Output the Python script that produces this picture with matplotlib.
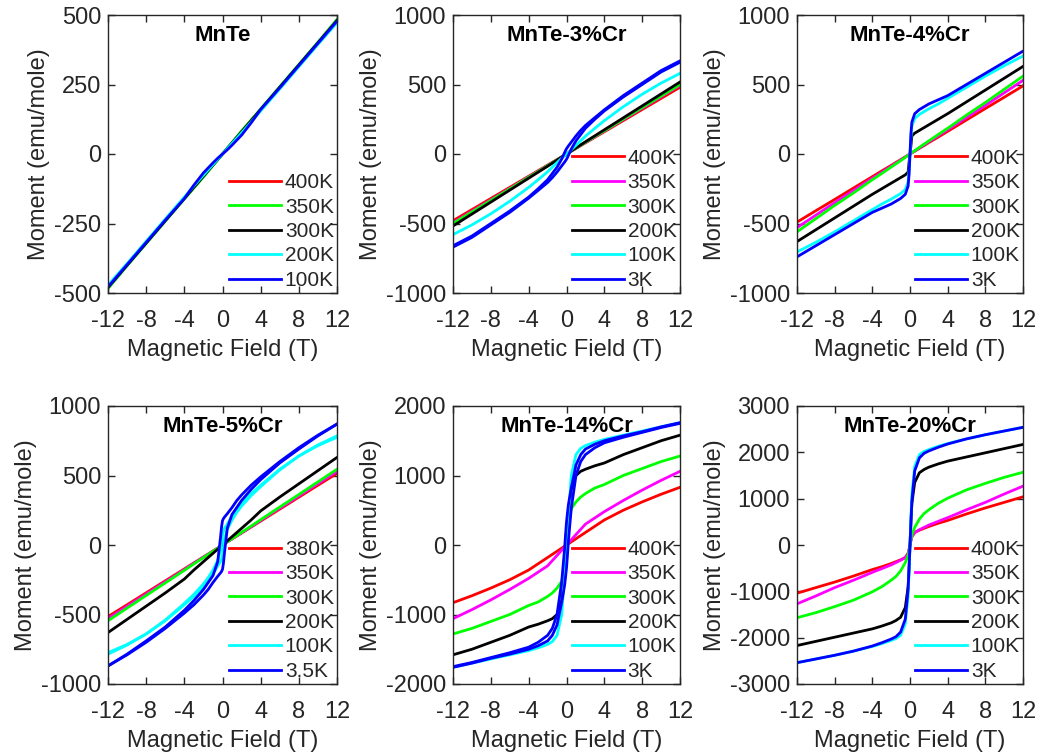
import numpy as np
import matplotlib
matplotlib.use("Agg")
import matplotlib.pyplot as plt

plt.rcParams['font.family'] = ['Liberation Sans', 'DejaVu Sans']
plt.rcParams['axes.unicode_minus'] = False

# field points (T) for the positive half of the anhysteretic curves
H_POS = [0, 0.1, 0.2, 0.5, 1, 1.5, 2, 3, 4, 6, 8, 10, 12]
# field points for the descending branch of curves with a loop
H_LOOP = [12, 10, 8, 6, 4, 3, 2, 1.5, 1, 0.5, 0.2, 0.1, 0,
          -0.1, -0.2, -0.5, -1, -1.5, -2, -3, -4, -6, -8, -10, -12]

# MnTe
mnte_400 = [0, 4, 8, 20, 40, 60, 80, 120, 160, 240, 320, 400, 482]
mnte_350 = [0, 4, 9, 21, 41, 62, 83, 122, 162, 242, 322, 402, 484]
mnte_300 = [0, 4, 8, 20, 40, 60, 80, 120, 160, 240, 320, 400, 480]
mnte_200 = [0, 4, 8, 19, 38, 57, 76, 115, 155, 234, 314, 394, 472]
mnte_100 = [0, 3, 6, 15, 32, 50, 68, 112, 160, 238, 318, 398, 478]

# MnTe-3%Cr
cr3_400 = [0, 4, 8, 20, 40, 60, 80, 120, 160, 240, 320, 400, 480]
cr3_350 = [0, 4, 8, 21, 42, 62, 83, 124, 165, 248, 330, 412, 495]
cr3_300 = [0, 4, 8, 21, 42, 63, 84, 126, 167, 251, 334, 417, 500]
cr3_200 = [0, 4, 9, 22, 44, 66, 88, 131, 174, 260, 346, 432, 518]
cr3_100 = [0, 6, 12, 30, 62, 95, 128, 185, 240, 340, 430, 510, 580]
cr3_3_loop = [670, 600, 510, 420, 318, 262, 205, 170, 130, 85, 58, 48, 38,
              25, 10, -35, -95, -140, -185, -250, -310, -410, -500, -590, -660]

# MnTe-4%Cr
cr4_400 = [0, 4, 8, 20, 41, 61, 82, 122, 163, 245, 327, 408, 490]
cr4_350 = [0, 4, 9, 22, 44, 66, 88, 132, 175, 263, 350, 440, 530]
cr4_300 = [0, 5, 10, 24, 48, 71, 94, 140, 185, 280, 370, 465, 560]
cr4_200 = [0, 60, 130, 150, 170, 190, 210, 250, 290, 375, 460, 545, 630]
cr4_100 = [0, 120, 200, 255, 285, 305, 325, 360, 400, 480, 560, 635, 705]
cr4_3 = [0, 150, 230, 290, 320, 340, 360, 390, 420, 500, 580, 660, 740]

# MnTe-5%Cr
cr5_380 = [0, 4, 9, 22, 43, 65, 86, 129, 172, 258, 344, 430, 515]
cr5_350 = [0, 4, 9, 22, 44, 66, 88, 132, 177, 265, 353, 442, 530]
cr5_300 = [0, 5, 9, 23, 45, 68, 91, 136, 182, 273, 363, 454, 545]
cr5_200 = [0, 6, 12, 30, 60, 90, 120, 180, 245, 345, 440, 535, 630]
cr5_100_loop = [785, 720, 640, 545, 430, 370, 300, 260, 210, 150, 120, 100, 70,
                20, -40, -110, -180, -235, -280, -355, -420, -540, -640, -715, -775]
cr5_35_loop = [870, 790, 700, 600, 490, 430, 360, 320, 270, 225, 200, 190, 175,
               130, 60, -120, -220, -270, -320, -400, -470, -590, -690, -785, -870]

# MnTe-14%Cr
cr14_400 = [0, 9, 18, 45, 90, 135, 180, 270, 360, 500, 620, 730, 830]
cr14_350 = [0, 15, 30, 75, 150, 225, 300, 390, 480, 640, 790, 930, 1060]
cr14_300 = [0, 150, 280, 520, 620, 690, 740, 820, 870, 1000, 1100, 1200, 1280]
cr14_200 = [0, 250, 450, 800, 1000, 1060, 1090, 1140, 1180, 1300, 1400, 1500, 1580]
cr14_100 = [0, 180, 380, 1000, 1300, 1390, 1430, 1480, 1520, 1580, 1640, 1700, 1760]
cr14_3_loop = [1760, 1700, 1630, 1570, 1500, 1450, 1380, 1300, 1150, 820, 580, 460, 330,
               150, -50, -520, -1000, -1200, -1300, -1400, -1470, -1550, -1620, -1690, -1750]

# MnTe-20%Cr
cr20_400 = [0, 100, 180, 270, 320, 360, 400, 470, 530, 670, 800, 920, 1040]
cr20_350 = [0, 100, 180, 270, 330, 380, 430, 510, 590, 760, 920, 1100, 1270]
cr20_300 = [0, 120, 220, 380, 560, 680, 760, 900, 1010, 1190, 1330, 1460, 1570]
cr20_200 = [0, 500, 900, 1350, 1560, 1630, 1680, 1750, 1810, 1900, 1990, 2080, 2170]
cr20_100 = [0, 600, 1100, 1700, 1950, 2020, 2060, 2130, 2190, 2290, 2380, 2460, 2540]
cr20_3 = [0, 500, 950, 1600, 1880, 1980, 2030, 2110, 2180, 2290, 2380, 2460, 2540]

titles = ["MnTe", "MnTe-3%Cr", "MnTe-4%Cr", "MnTe-5%Cr", "MnTe-14%Cr", "MnTe-20%Cr"]
labels = [
    ["400K", "350K", "300K", "200K", "100K"],
    ["400K", "350K", "300K", "200K", "100K", "3K"],
    ["400K", "350K", "300K", "200K", "100K", "3K"],
    ["380K", "350K", "300K", "200K", "100K", "3.5K"],
    ["400K", "350K", "300K", "200K", "100K", "3K"],
    ["400K", "350K", "300K", "200K", "100K", "3K"],
]
curves = [
    [mnte_400, mnte_350, mnte_300, mnte_200, mnte_100],
    [cr3_400, cr3_350, cr3_300, cr3_200, cr3_100, cr3_3_loop],
    [cr4_400, cr4_350, cr4_300, cr4_200, cr4_100, cr4_3],
    [cr5_380, cr5_350, cr5_300, cr5_200, cr5_100_loop, cr5_35_loop],
    [cr14_400, cr14_350, cr14_300, cr14_200, cr14_100, cr14_3_loop],
    [cr20_400, cr20_350, cr20_300, cr20_200, cr20_100, cr20_3],
]
colors6 = ['#ff0000', '#ff00ff', '#00ff00', '#000000', '#00ffff', '#0000ff']
colors5 = ['#ff0000', '#00ff00', '#000000', '#00ffff', '#0000ff']
yticks = [
    [-500, -250, 0, 250, 500],
    [-1000, -500, 0, 500, 1000],
    [-1000, -500, 0, 500, 1000],
    [-1000, -500, 0, 500, 1000],
    [-2000, -1000, 0, 1000, 2000],
    [-3000, -2000, -1000, 0, 1000, 2000, 3000],
]

W, H = 1040, 752
boxes = [(108, 15, 229), (453, 15, 227), (797, 15, 226),
         (108, 406, 229), (453, 406, 227), (797, 406, 226)]
box_h = 278
axc = '#262626'

fig = plt.figure(figsize=(W / 100, H / 100), dpi=100)

for k in range(6):
    x0, y0, w = boxes[k]
    ax = fig.add_axes([x0 / W, (H - y0 - box_h) / H, w / W, box_h / H])
    cols = colors5 if k == 0 else colors6
    hp = np.array(H_POS)
    for m, c, lab in zip(curves[k], cols, labels[k]):
        m = np.array(m, dtype=float)
        if len(m) == len(H_LOOP):
            hl = np.array(H_LOOP)
            ax.plot(hl, m, color=c, lw=2.0, label=lab)
            ax.plot(-hl, -m, color=c, lw=2.0)
        else:
            hh = np.concatenate([-hp[::-1], hp[1:]])
            mm = np.concatenate([-m[::-1], m[1:]])
            ax.plot(hh, mm, color=c, lw=2.0, label=lab)
    ax.set_xlim(-12, 12)
    ax.set_ylim(yticks[k][0], yticks[k][-1])
    ax.set_xticks([-12, -8, -4, 0, 4, 8, 12])
    ax.set_yticks(yticks[k])
    ax.tick_params(direction='in', top=True, right=True, length=5, width=1,
                   labelsize=17, colors=axc, pad=5)
    ax.tick_params(axis='x', pad=12)
    for s in ax.spines.values():
        s.set_color(axc)
        s.set_linewidth(1.0)
    ax.set_xlabel("Magnetic Field (T)", fontsize=17, color=axc, labelpad=5)
    ax.set_ylabel("Moment (emu/mole)", fontsize=17, color=axc, labelpad=3)
    ax.text(0.5, 0.925, titles[k], transform=ax.transAxes, ha='center', va='center',
            fontsize=16, fontweight='bold', color='#000000')
    ax.legend(loc='lower right', frameon=False, fontsize=15, handlelength=2.5,
              handletextpad=0.2, labelspacing=0.26, borderaxespad=0.0,
              borderpad=0.15, labelcolor=axc)

fig.savefig("out.png", dpi=100)
